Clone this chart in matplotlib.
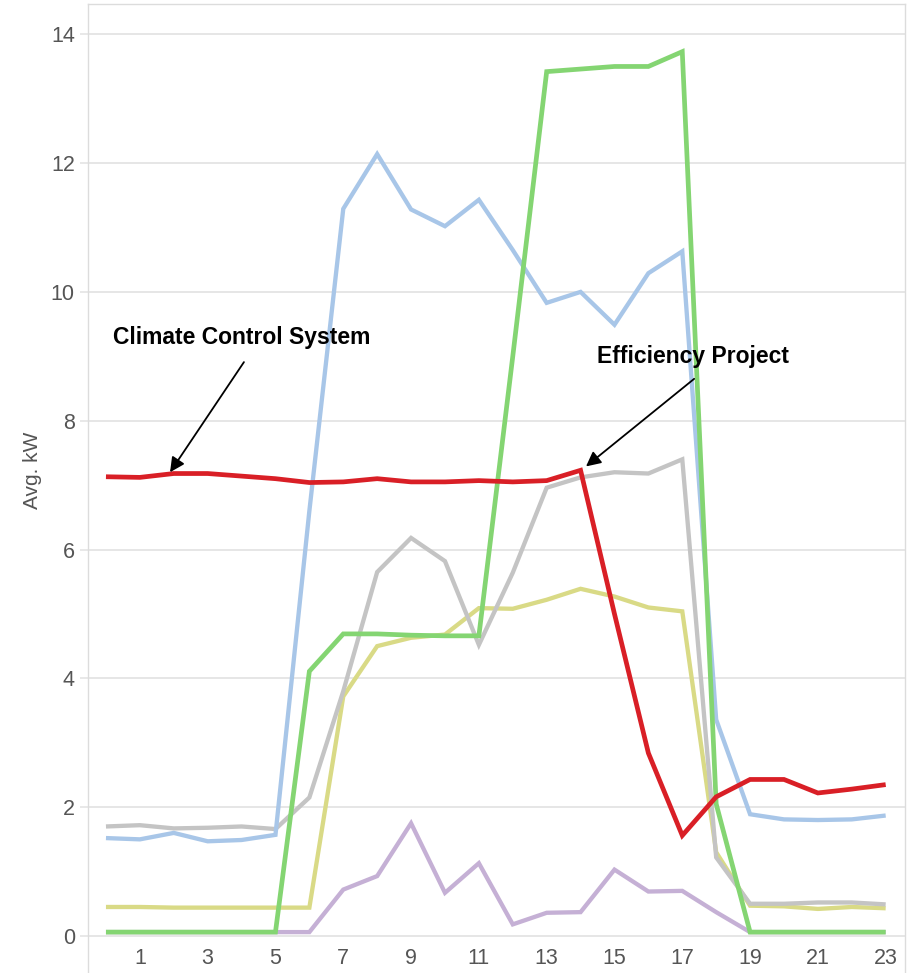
import matplotlib
matplotlib.use("Agg")
import matplotlib.pyplot as plt

plt.rcParams['font.family'] = ['Liberation Sans', 'DejaVu Sans']

hours = list(range(24))
x_tick_labels = [1, 3, 5, 7, 9, 11, 13, 15, 17, 19, 21, 23]
y_tick_values = [0, 2, 4, 6, 8, 10, 12, 14]

purple = [0.06, 0.06, 0.06, 0.06, 0.06, 0.06, 0.06, 0.72, 0.93, 1.75, 0.67, 1.13,
          0.18, 0.36, 0.37, 1.03, 0.69, 0.70, 0.37, 0.06, 0.06, 0.06, 0.06, 0.06]
yellow = [0.45, 0.45, 0.44, 0.44, 0.44, 0.44, 0.44, 3.72, 4.50, 4.63, 4.68, 5.09,
          5.08, 5.22, 5.39, 5.27, 5.10, 5.04, 1.30, 0.47, 0.46, 0.42, 0.45, 0.43]
gray = [1.70, 1.72, 1.67, 1.68, 1.70, 1.66, 2.15, 3.80, 5.65, 6.18, 5.82, 4.52,
        5.64, 6.96, 7.12, 7.20, 7.18, 7.40, 1.22, 0.50, 0.50, 0.52, 0.52, 0.49]
blue = [1.52, 1.50, 1.60, 1.47, 1.49, 1.57, 6.60, 11.29, 12.14, 11.28, 11.02, 11.43,
        10.65, 9.83, 10.00, 9.49, 10.29, 10.63, 3.36, 1.89, 1.81, 1.80, 1.81, 1.87]
green = [0.06, 0.06, 0.06, 0.06, 0.06, 0.06, 4.11, 4.69, 4.69, 4.67, 4.66, 4.66,
         9.00, 13.42, 13.46, 13.50, 13.50, 13.73, 2.05, 0.06, 0.06, 0.06, 0.06, 0.06]
red = [7.13, 7.12, 7.18, 7.18, 7.14, 7.10, 7.04, 7.05, 7.10, 7.05, 7.05, 7.07,
       7.05, 7.07, 7.23, 5.00, 2.84, 1.56, 2.16, 2.43, 2.43, 2.22, 2.28, 2.35]

series = [
    (purple, '#c5b0d5', 3.1),
    (yellow, '#d9da86', 3.1),
    (gray, '#c4c4c4', 3.1),
    (blue, '#a8c6e8', 3.1),
    (green, '#84d572', 3.4),
    (red, '#d91f26', 3.4),
]

fig = plt.figure(figsize=(9.13, 9.73), dpi=100)
ax = fig.add_axes([88 / 913, 0.0, (905 - 88) / 913, (973 - 4) / 973])

for vals, col, lw in series:
    ax.plot(hours, vals, color=col, lw=lw, solid_joinstyle='miter',
            solid_capstyle='butt', zorder=3)

ax.set_xlim(-0.53, 23.57)
ax.set_ylim(-0.575, 14.47)

ax.set_yticks(y_tick_values)
ax.set_yticklabels([str(v) for v in y_tick_values])
ax.set_xticks(x_tick_labels)
ax.set_xticklabels([str(v) for v in x_tick_labels])

ax.grid(axis='y', color='#e4e4e4', lw=1.3, zorder=0)
ax.grid(axis='x', visible=False)
ax.set_axisbelow(True)

ax.tick_params(axis='y', direction='out', length=6, width=1.2, color='#e4e4e4',
               pad=3.5, labelsize=15.5, labelcolor='#555555')
ax.tick_params(axis='x', direction='in', length=0, pad=-18,
               labelsize=15.5, labelcolor='#555555')

for side in ['left', 'right', 'top']:
    ax.spines[side].set_color('#dcdcdc')
    ax.spines[side].set_linewidth(1.0)
ax.spines['bottom'].set_visible(False)

fig.text(32 / 913, 1 - 470 / 973, 'Avg. kW', rotation=90, ha='center', va='center',
         fontsize=15, color='#555555')

ax.text(4.01, 9.29, 'Climate Control System', ha='center', va='center',
        fontsize=16.5, fontweight='bold', color='black', zorder=5)
ax.annotate('', xy=(1.89, 7.2), xytext=(4.07, 8.91),
            arrowprops=dict(arrowstyle='-|>', color='black', lw=1.3,
                            mutation_scale=22, shrinkA=0, shrinkB=0), zorder=5)

ax.text(17.32, 9.0, 'Efficiency Project', ha='center', va='center',
        fontsize=16.5, fontweight='bold', color='black', zorder=5)
ax.annotate('', xy=(14.16, 7.29), xytext=(17.35, 8.65),
            arrowprops=dict(arrowstyle='-|>', color='black', lw=1.3,
                            mutation_scale=22, shrinkA=0, shrinkB=0), zorder=5)

fig.savefig('out.png', dpi=100, facecolor='white')
